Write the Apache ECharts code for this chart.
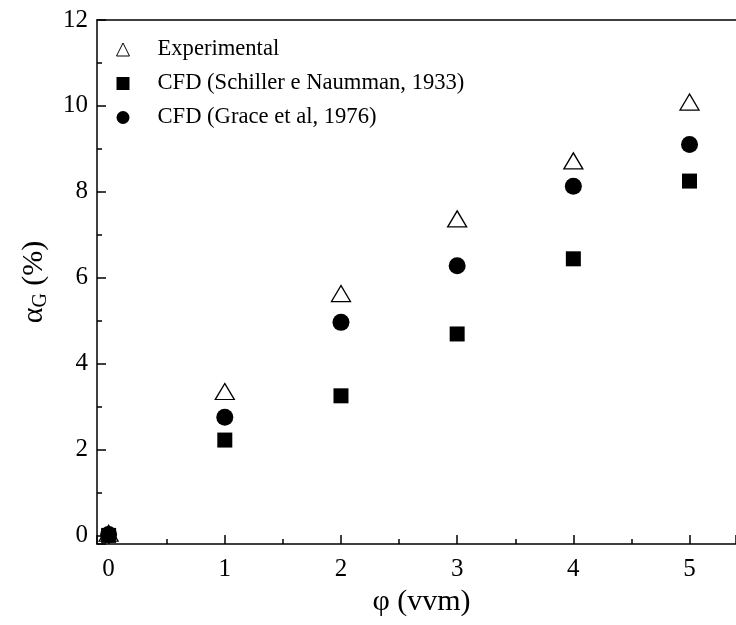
<!DOCTYPE html>
<html>
<head>
<meta charset="utf-8">
<script src="https://cdn.jsdelivr.net/npm/echarts@6/dist/echarts.min.js"></script>
<style>
html,body{margin:0;padding:0;background:#fff;}
#main{width:736px;height:625px;}
</style>
</head>
<body>
<div id="main"></div>
<script>
const xValues = [0, 1, 2, 3, 4, 5];
const experimental = [0.05, 3.35, 5.63, 7.37, 8.72, 10.09];
const schiller = [0.0, 2.22, 3.25, 4.69, 6.44, 8.25];
const grace = [0.02, 2.75, 4.96, 6.28, 8.13, 9.10];
const seriesNames = ['Experimental', 'CFD (Schiller e Naumman, 1933)', 'CFD (Grace et al, 1976)'];

const FONT = "'Liberation Serif', 'Times New Roman', serif";
const pairs = arr => xValues.map((x, i) => [x, arr[i]]);

const chart = echarts.init(document.getElementById('main'), null, {renderer: 'canvas'});
const axisLine = {show: true, onZero: false, lineStyle: {color: '#000', width: 1.5}};
chart.setOption({
  backgroundColor: '#fff',
  animation: false,
  grid: {left: 97, top: 20, right: 0, bottom: 81, containLabel: false},
  legend: {
    orient: 'vertical',
    left: 111,
    top: 33,
    itemWidth: 13,
    itemHeight: 13,
    itemGap: 11,
    textStyle: {fontFamily: FONT, fontSize: 22.6, color: '#000', padding: [0, 0, 0, 23]},
    data: [
      {name: seriesNames[0], itemStyle: {borderWidth: 1}},
      {name: seriesNames[1]},
      {name: seriesNames[2]}
    ]
  },
  xAxis: [{
    type: 'value',
    min: -0.1, max: 5.4,
    minInterval: 1, maxInterval: 1,
    axisLine: axisLine,
    axisTick: {show: true, inside: true, length: 9, lineStyle: {color: '#000', width: 1.5}},
    minorTick: {show: true, splitNumber: 2, length: 5, lineStyle: {color: '#000', width: 1.5}},
    splitLine: {show: false},
    axisLabel: {showMinLabel: false, showMaxLabel: false, margin: 13, fontFamily: FONT, fontSize: 25, color: '#000'},
    name: 'φ (vvm)',
    nameLocation: 'middle',
    nameGap: 41,
    nameTextStyle: {fontFamily: FONT, fontSize: 30, color: '#000', padding: [0, 0, 0, 10]}
  }, {
    type: 'value', position: 'top',
    min: -0.1, max: 5.4,
    axisLine: axisLine,
    axisTick: {show: false}, axisLabel: {show: false}, splitLine: {show: false}
  }],
  yAxis: {
    type: 'value',
    min: -0.2, max: 12,
    minInterval: 2, maxInterval: 2,
    axisLine: axisLine,
    axisTick: {show: true, inside: true, length: 9, lineStyle: {color: '#000', width: 1.5}},
    minorTick: {show: true, splitNumber: 2, length: 5, lineStyle: {color: '#000', width: 1.5}},
    splitLine: {show: false},
    axisLabel: {showMinLabel: false, margin: 9, fontFamily: FONT, fontSize: 25, color: '#000'},
    name: '{a|α}{s|G}{a| (%)}',
    nameLocation: 'middle',
    nameGap: 46,
    nameTextStyle: {
      fontFamily: FONT, color: '#000',
      rich: {
        a: {fontFamily: FONT, fontSize: 30, color: '#000'},
        s: {fontFamily: FONT, fontSize: 20, color: '#000', padding: [13, 0, 0, 0]}
      }
    }
  },
  series: [{
    name: seriesNames[0], type: 'scatter',
    symbol: 'triangle', symbolSize: [19, 16],
    itemStyle: {color: '#fff', borderColor: '#000', borderWidth: 1.3, opacity: 1},
    data: pairs(experimental), z: 2
  }, {
    name: seriesNames[1], type: 'scatter',
    symbol: 'rect', symbolSize: 15,
    itemStyle: {color: '#000', opacity: 1},
    data: pairs(schiller), z: 3
  }, {
    name: seriesNames[2], type: 'scatter',
    symbol: 'circle', symbolSize: 17,
    itemStyle: {color: '#000', opacity: 1},
    data: pairs(grace), z: 4
  }]
});
</script>
</body>
</html>
